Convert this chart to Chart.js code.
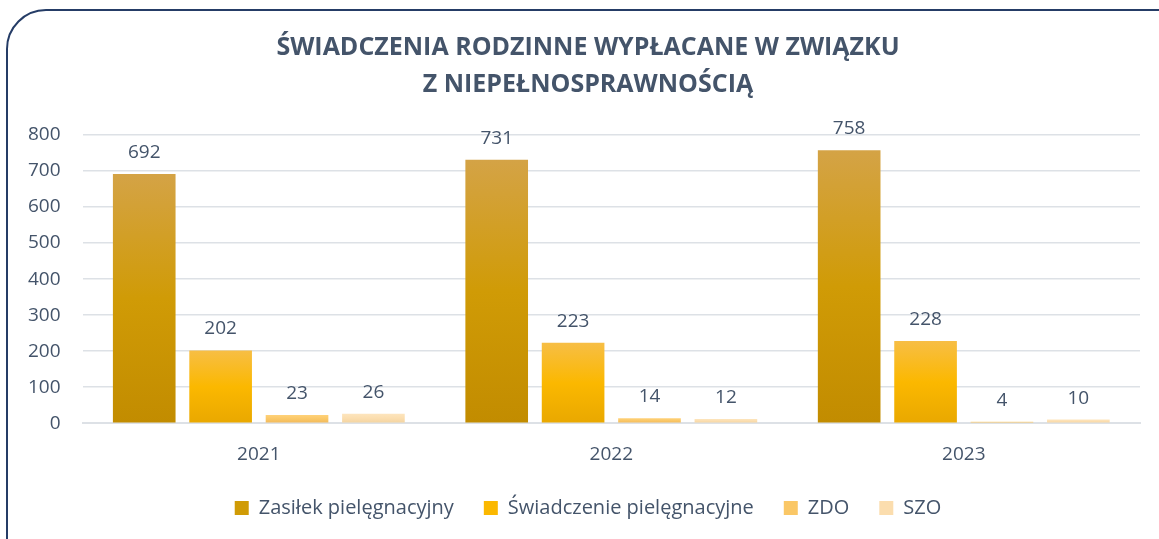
<!DOCTYPE html>
<html>
<head>
<meta charset="utf-8">
<script src="https://cdn.jsdelivr.net/npm/chart.js@4.4.1/dist/chart.umd.min.js"></script>
<style>
  html, body { margin: 0; padding: 0; background: #fff; overflow: hidden; }
  #wrap { position: relative; width: 1159px; height: 539px; }
  #ramka {
    position: absolute; left: 6px; top: 9px; width: 1200px; height: 600px;
    border: 2px solid #253C66; border-radius: 40px; pointer-events: none;
  }
  canvas { position: absolute; left: 0; top: 0; }
</style>
</head>
<body>
<div id="wrap">
  <canvas id="wykres" width="1159" height="539"></canvas>
  <div id="ramka"></div>
</div>
<script>
// dane
const lata = ["2021", "2022", "2023"];
const zasilekPielegnacyjny = [692, 731, 758];
const swiadczeniePielegnacyjne = [202, 223, 228];
const zdo = [23, 14, 4];
const szo = [26, 12, 10];
const nazwySerii = ["Zasiłek pielęgnacyjny", "Świadczenie pielęgnacyjne", "ZDO", "SZO"];

// kolory (góra -> dół słupka)
const gradienty = [
    ["#D4A346", "#D09B06", "#C28C00"],
    ["#F7BE45", "#FBB800", "#E9A800"],
    ["#FFD27A", "#FAC766", "#F0B85A"],
    ["#FDE5BE", "#FBDDAE", "#F2D3A0"]
];
const tekst = "#44546A";
const czcionka = "'Open Sans', sans-serif";

function kolorSlupka(idx) {
    return (c) => {
        const chart = c.chart;
        if (!chart.chartArea || c.raw === undefined) return gradienty[idx][1];
        const y = chart.scales.y;
        const gora = y.getPixelForValue(c.raw);
        const dol = y.getPixelForValue(0);
        if (dol - gora < 1) return gradienty[idx][1];
        const g = chart.ctx.createLinearGradient(0, gora, 0, dol);
        g.addColorStop(0, gradienty[idx][0]);
        g.addColorStop(0.5, gradienty[idx][1]);
        g.addColorStop(1, gradienty[idx][2]);
        return g;
    };
}

// etykiety wartości nad słupkami
const etykiety = {
    id: "etykiety",
    afterDatasetsDraw(chart) {
        const ctx = chart.ctx;
        ctx.save();
        ctx.font = "19px " + czcionka;
        ctx.fillStyle = tekst;
        ctx.textAlign = "center";
        ctx.textBaseline = "alphabetic";
        chart.data.datasets.forEach((ds, i) => {
            chart.getDatasetMeta(i).data.forEach((bar, j) => {
                ctx.fillText(ds.data[j], bar.x, bar.y - 16);
            });
        });
        ctx.restore();
    }
};

// tytuł i legenda lekko w prawo, jak w oryginale
const przesun = {
    id: "przesun",
    afterLayout(chart) {
        [chart.legend, chart.titleBlock].forEach((b) => {
            if (!b) return;
            b.left += 15;
            b.right += 15;
        });
    }
};

const serie = [zasilekPielegnacyjny, swiadczeniePielegnacyjne, zdo, szo];

new Chart(document.getElementById("wykres"), {
    type: "bar",
    data: {
        labels: lata,
        datasets: serie.map((d, i) => ({
            label: nazwySerii[i],
            data: d,
            backgroundColor: kolorSlupka(i),
            categoryPercentage: 0.867,
            barPercentage: 0.82
        }))
    },
    options: {
        responsive: false,
        animation: false,
        layout: { padding: { left: 6, right: 19, top: 0, bottom: 11 } },
        plugins: {
            title: {
                display: true,
                text: ["ŚWIADCZENIA RODZINNE WYPŁACANE W ZWIĄZKU", "Z NIEPEŁNOSPRAWNOŚCIĄ"],
                color: tekst,
                font: { family: czcionka, size: 25, weight: "bold", lineHeight: 1.5 },
                padding: { top: 29, bottom: 31 }
            },
            legend: {
                position: "bottom",
                labels: {
                    color: tekst,
                    font: { family: czcionka, size: 20 },
                    boxWidth: 14,
                    boxHeight: 14,
                    padding: 30,
                    generateLabels(chart) {
                        return chart.data.datasets.map((ds, i) => ({
                            text: ds.label,
                            fillStyle: gradienty[i][1],
                            strokeStyle: gradienty[i][1],
                            lineWidth: 0,
                            fontColor: tekst,
                            datasetIndex: i
                        }));
                    }
                }
            },
            tooltip: { enabled: false }
        },
        scales: {
            x: {
                grid: { display: false },
                border: { display: true, color: "#DDE1E6", width: 2 },
                ticks: { color: tekst, font: { family: czcionka, size: 19 }, padding: 12 },
                afterFit(scale) { scale.height -= 10; }
            },
            y: {
                min: 0,
                max: 800,
                ticks: { stepSize: 100, color: tekst, font: { family: czcionka, size: 19 }, padding: 22 },
                grid: { color: "#DDE1E6", lineWidth: 1.5, drawTicks: false },
                border: { display: false }
            }
        }
    },
    plugins: [etykiety, przesun]
});
</script>
</body>
</html>
